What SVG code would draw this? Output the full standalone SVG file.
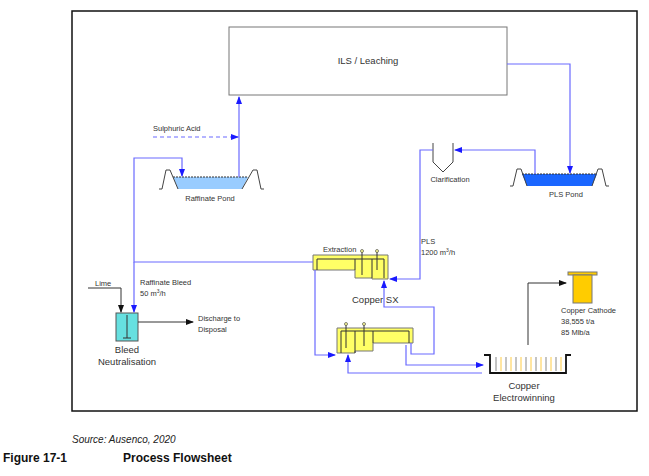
<svg xmlns="http://www.w3.org/2000/svg" width="649" height="476" viewBox="0 0 649 476">
<style>
text{font-family:"Liberation Sans",Arial,sans-serif;font-size:7.5px;fill:#333}
.big{font-size:9.5px}
.b{fill:none;stroke:#6a6aff;stroke-width:1.2}
.k{fill:none;stroke:#333;stroke-width:1}
.unit{fill:#ffff66;stroke:#777;stroke-width:1}
.bank{fill:none;stroke:#444;stroke-width:1}
</style>
<defs>
<marker id="ab" markerWidth="8" markerHeight="8" refX="7" refY="4" orient="auto" markerUnits="userSpaceOnUse"><path d="M0,1 L8,4 L0,7Z" fill="#1a1aff"/></marker>
<marker id="ak" markerWidth="8" markerHeight="8" refX="7" refY="4" orient="auto" markerUnits="userSpaceOnUse"><path d="M0,1 L8,4 L0,7Z" fill="#111"/></marker>
</defs>
<rect width="649" height="476" fill="#fff"/>
<rect x="72" y="11" width="565" height="400" fill="none" stroke="#111" stroke-width="1.5"/>

<g id="ils"><rect x="229" y="27" width="278" height="68" fill="#fff" stroke="#777"/><text x="368" y="64" text-anchor="middle" class="big">ILS / Leaching</text></g>

<g id="raffinate-pond">
<path d="M173,177 L248,177 L242,189 L178,189Z" fill="#99ccff"/>
<path d="M173,177 L248,177" stroke="#333" stroke-dasharray="2,1" fill="none"/>
<path class="bank" d="M159,189 L162,189 L166,170 L170,170 L178,189 M242,189 L253,170 L257,170 L261,189 L264,189"/>
<text x="210" y="201" text-anchor="middle">Raffinate Pond</text></g>

<g id="pls-pond">
<path d="M522,174 L597,174 L592,186 L527,186Z" fill="#1a66ff"/>
<path d="M522,174 L597,174" stroke="#333" stroke-dasharray="2,1" fill="none"/>
<path class="bank" d="M510,186 L513,186 L517,169 L521,169 L527,186 M592,186 L598,169 L602,169 L606,186 L609,186"/>
<text x="566" y="197" text-anchor="middle">PLS Pond</text></g>

<g id="clarification"><path class="bank" d="M433,143 V162 L443,172 L453,162 V143"/><text x="450" y="182" text-anchor="middle">Clarification</text></g>

<g id="extraction">
<path class="unit" d="M313,255 H388 V279 H372 V278 H355 V270 H313Z"/>
<path class="k" stroke="#555" d="M317,270 V259 H384 V278 M355,259 V270 M372,259 V278 M362,252 V275 M377,252 V270"/>
<circle cx="362" cy="251" r="1.5" fill="#ff9" stroke="#333" stroke-width="0.6"/><circle cx="377" cy="251" r="1.5" fill="#ff9" stroke="#333" stroke-width="0.6"/>
<text x="323" y="252">Extraction</text>
<text x="352" y="303" class="big">Copper SX</text></g>

<g id="stripping">
<path class="unit" d="M337,328 H413 V343 H373 V351 H355 V353 H337Z"/>
<path class="k" stroke="#555" d="M341,353 V331 H409 V343 M355,331 V353 M373,331 V343 M346,325 V348 M364,325 V346"/>
<circle cx="346" cy="324" r="1.5" fill="#ff9" stroke="#333" stroke-width="0.6"/><circle cx="364" cy="324" r="1.5" fill="#ff9" stroke="#333" stroke-width="0.6"/>
</g>

<g id="neutralisation">
<rect x="116" y="313" width="22" height="28" fill="#66e0e0" stroke="#555"/>
<path class="k" d="M127,315 V338 M123,338 H131"/>
<text x="127" y="353" text-anchor="middle" class="big">Bleed</text><text x="127" y="365" text-anchor="middle" class="big">Neutralisation</text></g>

<g id="electrowinning">
<path d="M484,355 H490 V373 H566 V355 H571" fill="none" stroke="#111" stroke-width="1.8"/>
<g stroke-width="1"><path stroke="#888" d="M496,357V371M506,357V371M516,357V371M526,357V371M536,357V371M546,357V371M556,357V371"/><path stroke="#ffcc44" d="M501,357V371M511,357V371M521,357V371M531,357V371M541,357V371M551,357V371M561,357V371"/></g>
<text x="524" y="389" text-anchor="middle" class="big">Copper</text><text x="524" y="401" text-anchor="middle" class="big">Electrowinning</text></g>

<g id="cathode"><rect x="568" y="272" width="29" height="3" fill="#ffcc00" stroke="#777"/><rect x="573" y="275" width="19" height="28" fill="#ffcc00" stroke="#777"/>
<text x="561" y="313">Copper Cathode</text><text x="561" y="324">38,555 t/a</text><text x="561" y="335">85 Mlb/a</text></g>

<g id="labels">
<text x="153" y="131">Sulphuric Acid</text>
<text x="95" y="286">Lime</text>
<text x="140" y="285">Raffinate Bleed</text><text x="140" y="296">50 m<tspan dy="-3" font-size="5">3</tspan><tspan dy="3">/h</tspan></text>
<text x="198" y="321">Discharge to</text><text x="198" y="332">Disposal</text>
<text x="421" y="244">PLS</text><text x="421" y="255">1200 m<tspan dy="-3" font-size="5">3</tspan><tspan dy="3">/h</tspan></text>
</g>

<g id="connectors">
<path class="b" d="M239,177 V97" marker-end="url(#ab)"/>
<path class="b" d="M153,137 H238" stroke-dasharray="4,3" marker-end="url(#ab)"/>
<path class="b" d="M313,262 H134 V158 H182 V176" marker-end="url(#ab)"/>
<path class="b" d="M134,262 V312" marker-end="url(#ab)"/>
<path class="k" d="M88,288 H121 V312" marker-end="url(#ak)"/>
<path class="k" d="M138,322 H193" marker-end="url(#ak)"/>
<path class="b" d="M507,64 H570 V173" marker-end="url(#ab)"/>
<path class="b" d="M535,174 V150 H455" marker-end="url(#ab)"/>
<path class="b" d="M433,150 H420 V279 H390" marker-end="url(#ab)"/>
<path class="b" d="M411,343 V354 H434 V307 H384 V281" marker-end="url(#ab)"/>
<path class="b" d="M315,270 V355 H335" marker-end="url(#ab)"/>
<path class="b" d="M406,345 V365 H483" marker-end="url(#ab)"/>
<path class="b" d="M482,373 H348 V355" marker-end="url(#ab)"/>
<path class="k" d="M528,345 V283 H566" marker-end="url(#ak)"/>
</g>

<text x="72" y="443" style="font-family:'Liberation Sans',sans-serif;font-size:10px;font-style:italic;fill:#222">Source: Ausenco, 2020</text>
<text x="3" y="462" style="font-family:'Liberation Sans',sans-serif;font-size:12px;font-weight:bold;fill:#111">Figure 17-1</text>
<text x="123" y="462" style="font-family:'Liberation Sans',sans-serif;font-size:12px;font-weight:bold;fill:#111">Process Flowsheet</text>
</svg>
